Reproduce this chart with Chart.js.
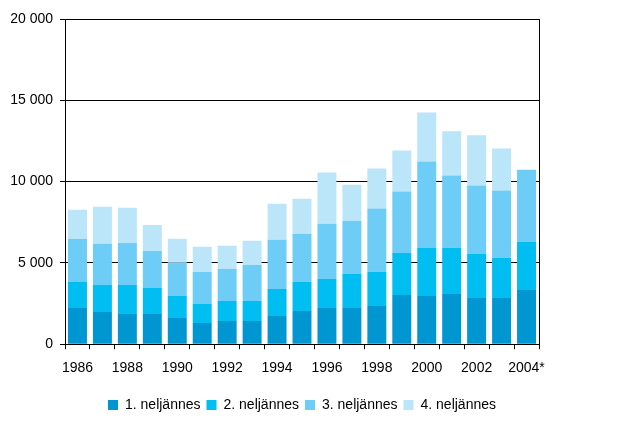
<!DOCTYPE html>
<html>
<head>
<meta charset="utf-8">
<script src="https://cdn.jsdelivr.net/npm/chart.js@4.4.0/dist/chart.umd.min.js"></script>
<style>
  html, body { margin: 0; padding: 0; background: #fff; }
  #wrap { width: 636px; height: 423px; }
</style>
</head>
<body>
<div id="wrap"><canvas id="chart"></canvas></div>
<script>
// years on the x axis, last one is preliminary
var years = ['1986','1987','1988','1989','1990','1991','1992','1993','1994','1995',
             '1996','1997','1998','1999','2000','2001','2002','2003','2004*'];

// quarter values
var q1 = [2220,1975,1910,1910,1605,1300,1420,1420,1730,2040,2220,2220,2350,3025,2960,3090,2840,2840,3330];
var q2 = [1610,1670,1730,1540,1360,1170,1235,1235,1670,1790,1790,2100,2100,2590,2960,2840,2720,2470,2960];
var q3 = [2650,2530,2590,2280,2040,1975,1975,2220,3025,2960,3395,3270,3890,3770,5310,4440,4200,4140,4440];
var q4 = [1790,2280,2160,1600,1480,1545,1420,1480,2220,2160,3150,2220,2470,2530,3020,2720,3090,2590,null];

var seriesNames = ['1. neljännes', '2. neljännes', '3. neljännes', '4. neljännes'];
var colors = ['#0096D2', '#00BDF2', '#6DCDF6', '#BBE5F9'];

var yTicks = [0, 5000, 10000, 15000, 20000];

function fmt(v) {
  return v.toString().replace(/\B(?=(\d{3})+(?!\d))/g, ' ');
}

// black frame round the plot area
var frame = {
  id: 'frame',
  afterDraw: function(chart) {
    var a = chart.chartArea, ctx = chart.ctx;
    ctx.save();
    ctx.strokeStyle = '#000';
    ctx.lineWidth = 1;
    ctx.strokeRect(Math.round(a.left) + 0.5, Math.round(a.top) + 0.5,
                   Math.round(a.right - a.left), Math.round(a.bottom - a.top));
    ctx.restore();
  }
};

var font = { family: "'Liberation Sans', Arial, sans-serif", size: 14 };

new Chart('chart', {
  type: 'bar',
  data: {
    labels: years,
    datasets: [q1, q2, q3, q4].map(function(d, i) {
      return {
        label: seriesNames[i],
        data: d,
        backgroundColor: colors[i],
        borderWidth: 0,
        barPercentage: 0.76,
        categoryPercentage: 1
      };
    })
  },
  options: {
    responsive: true,
    maintainAspectRatio: false,
    animation: false,
    layout: { padding: { left: 0, right: 32, top: 19, bottom: 1 } },
    plugins: {
      legend: {
        position: 'bottom',
        labels: {
          color: '#000',
          font: font,
          boxWidth: 10,
          boxHeight: 10,
          padding: 6
        }
      },
      tooltip: { enabled: false }
    },
    scales: {
      x: {
        stacked: true,
        afterFit: function(scale) { scale.height += 4; },
        grid: {
          display: true,
          drawOnChartArea: false,
          drawTicks: true,
          tickLength: 5,
          color: '#000',
          offset: true
        },
        border: { color: '#000' },
        ticks: {
          color: '#000',
          font: font,
          autoSkip: false,
          maxRotation: 0,
          padding: 11,
          callback: function(value, index) {
            return index % 2 === 0 ? this.getLabelForValue(value) : '';
          }
        }
      },
      y: {
        stacked: true,
        min: 0,
        max: 20000,
        afterBuildTicks: function(scale) {
          scale.ticks = yTicks.map(function(v) { return { value: v }; });
        },
        afterFit: function(scale) { scale.width = 65; },
        grid: {
          color: '#000',
          tickLength: 5,
          drawTicks: true
        },
        border: { color: '#000' },
        ticks: {
          color: '#000',
          font: font,
          padding: 7,
          callback: function(v) { return fmt(v); }
        }
      },
      // empty right-hand axis, only to keep room beside the plot
      yRight: {
        position: 'right',
        min: 0,
        max: 20000,
        afterFit: function(scale) { scale.width = 65; },
        grid: { display: false, drawTicks: false },
        border: { display: false },
        ticks: { display: false }
      }
    }
  },
  plugins: [frame]
});
</script>
</body>
</html>
